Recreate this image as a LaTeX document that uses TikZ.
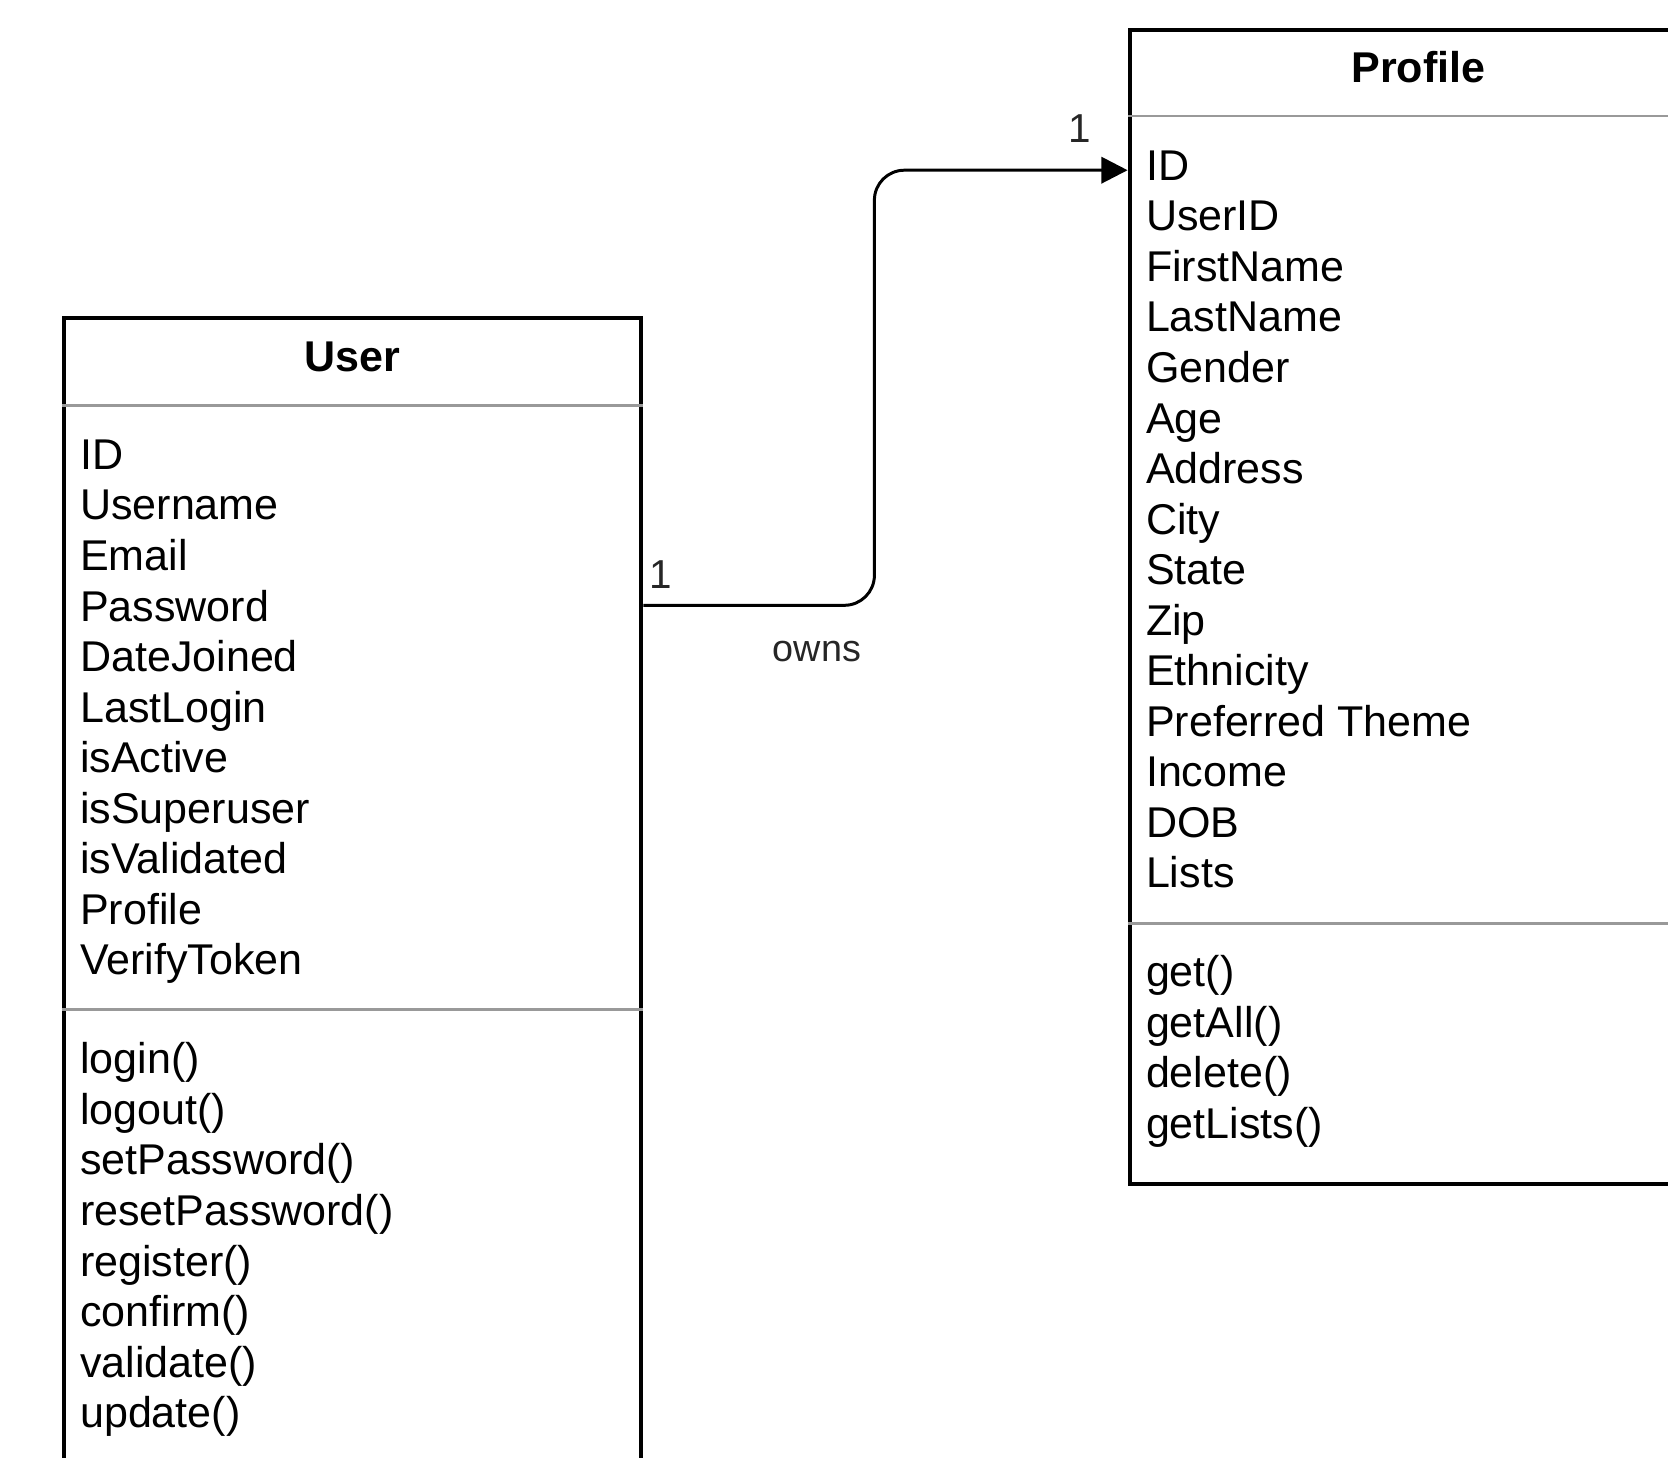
\documentclass[tikz,border=0pt]{standalone}
\usepackage{fontspec}
\setmainfont{Liberation Sans}
\usetikzlibrary{arrows.meta}
\tikzset{
  classbox/.style={draw=black,line width=2.3pt,rectangle,inner sep=0pt,anchor=north west},
  sepline/.style={draw=black!40,line width=1.7pt},
  ctitle/.style={font=\fontsize{24.5}{29}\selectfont\bfseries,inner sep=0pt},
  member/.style={font=\fontsize{24.5}{29}\selectfont,anchor=west,inner sep=0pt,text height=17.5pt,text depth=0pt},
  mult/.style={font=\fontsize{23}{27}\selectfont,inner sep=0pt,text=black!85},
  assoc/.style={line width=1.7pt,rounded corners=0.6cm,-{Triangle[length=15pt,width=15pt]}},
}
\begin{document}
\begin{tikzpicture}[x=0.02cm,y=-0.02cm]
      \path[use as bounding box,clip] (0,0) rectangle (1668,1458);
      \def\lh{50.55};
      % User class
      \node[classbox,minimum width=11.554cm,minimum height=24cm] (user) at (61.7,316) {};
      \node[ctitle] (utitle) at (user.north |- 0,356.4) {User};
      \draw[sepline] (user.west |- 0,405.3) -- (user.east |- 0,405.3);
      \foreach \t [count=\i] in {ID,Username,Email,Password,DateJoined,LastLogin,isActive,isSuperuser,isValidated,Profile,VerifyToken}
        \node[member] (ua\i) at (79.8,454+\lh*\i-\lh) {\t};
      \draw[sepline] (user.west |- 0,1009.5) -- (user.east |- 0,1009.5);
      \foreach \t [count=\i] in {login(),logout(),setPassword(),resetPassword(),register(),confirm(),validate(),update()}
        \node[member] (um\i) at (79.8,1058.5+\lh*\i-\lh) {\t};
      % Profile class
      \node[classbox,minimum width=11.554cm,minimum height=23.084cm] (profile) at (1127.6,27.7) {};
      \node[ctitle] (ptitle) at (profile.north |- 0,67) {Profile};
      \draw[sepline] (profile.west |- 0,116) -- (profile.east |- 0,116);
      \foreach \t [count=\i] in {ID,UserID,FirstName,LastName,Gender,Age,Address,City,State,Zip,Ethnicity,Preferred Theme,Income,DOB,Lists}
        \node[member] (pa\i) at (1145.7,164.9+\lh*\i-\lh) {\t};
      \draw[sepline] (profile.west |- 0,923.4) -- (profile.east |- 0,923.4);
      \foreach \t [count=\i] in {get(),getAll(),delete(),getLists()}
        \node[member] (pm\i) at (1145.7,971.2+\lh*\i-\lh) {\t};
      % association
      \coordinate (ufrom) at (user.east |- 0,605.3);
      \coordinate (pto) at (profile.west |- 0,170.2);
      \draw[assoc] (ufrom) -| (874.4,390) |- (pto);
      \node[mult] (m1) at (660.6,574.5) {1};
      \node[mult] (m2) at (1079.8,128.7) {1};
      \node[mult,font=\fontsize{21.5}{25}\selectfont] (owns) at (817,652) {owns};
\end{tikzpicture}
\end{document}
